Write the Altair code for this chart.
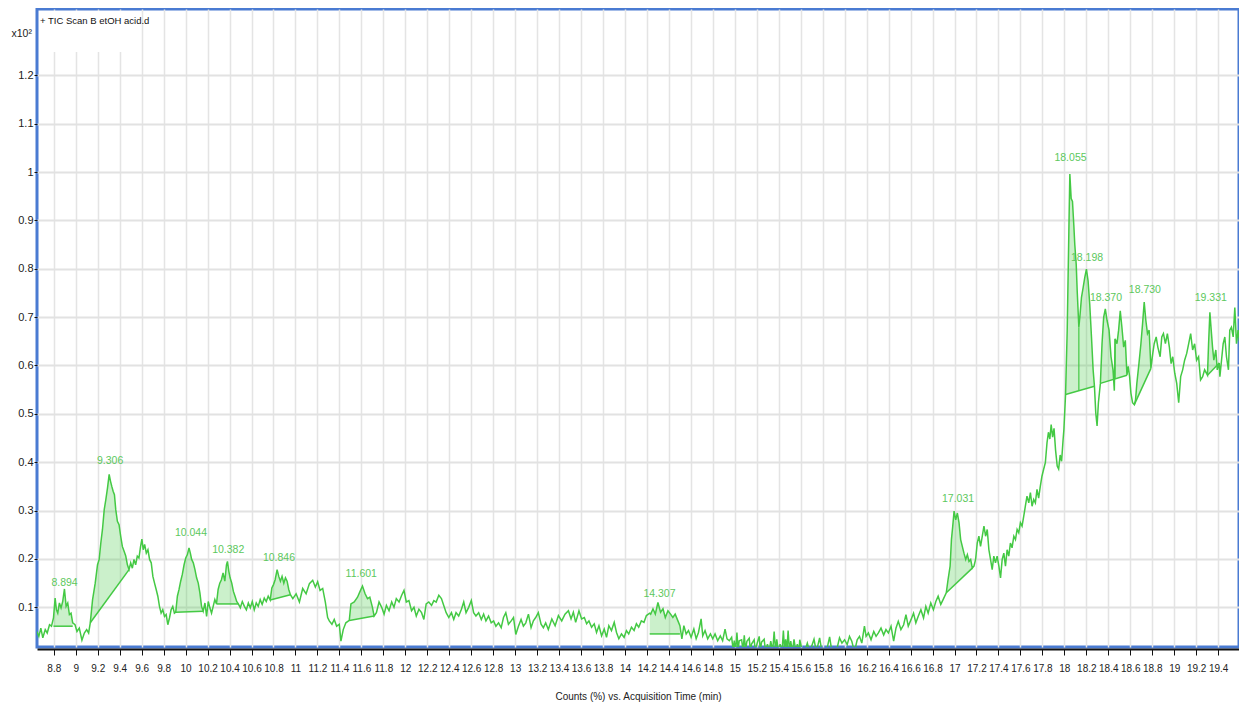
import altair as alt
import pandas as pd
import numpy as np

# ---------------- TIC trace (retention time in min, counts x10^2) ----------------
time_a = [8.646, 8.664, 8.682, 8.700, 8.722, 8.740, 8.761, 8.779, 8.797, 8.812, 8.824, 8.836, 8.851, 8.866,
          8.881, 8.897, 8.912, 8.927, 8.942, 8.957, 8.972, 8.993, 9.011, 9.032, 9.056, 9.078, 9.099, 9.117,
          9.132, 9.153, 9.177, 9.198, 9.213, 9.228, 9.243, 9.259, 9.274, 9.289, 9.304, 9.316, 9.328, 9.340,
          9.352, 9.364, 9.379, 9.394, 9.409, 9.424, 9.440, 9.455, 9.470, 9.485, 9.500, 9.515, 9.530, 9.545,
          9.560, 9.575, 9.590, 9.602, 9.614, 9.627, 9.642, 9.657, 9.672, 9.687, 9.702, 9.717, 9.732, 9.747,
          9.762, 9.777, 9.792, 9.808, 9.823, 9.838, 9.853, 9.868, 9.883, 9.898, 9.910, 9.925, 9.940, 9.955,
          9.970, 9.986, 10.001, 10.016, 10.031, 10.043, 10.055, 10.070, 10.085, 10.100, 10.115, 10.130,
          10.145, 10.160, 10.176, 10.191, 10.206, 10.221, 10.236, 10.251, 10.266, 10.281, 10.296, 10.311,
          10.326, 10.341, 10.357, 10.372, 10.381, 10.393, 10.405, 10.420, 10.435, 10.450, 10.465, 10.480,
          10.498, 10.516, 10.535, 10.553, 10.571, 10.589, 10.607, 10.625, 10.643, 10.661, 10.679, 10.697,
          10.716, 10.734, 10.752, 10.770, 10.785, 10.800, 10.815, 10.833, 10.848, 10.863, 10.878, 10.894,
          10.909, 10.924, 10.939, 10.954]
tic_a = [0.050, 0.040, 0.057, 0.037, 0.054, 0.047, 0.064, 0.061, 0.078, 0.119, 0.095, 0.088, 0.109, 0.099,
         0.112, 0.138, 0.102, 0.109, 0.085, 0.088, 0.068, 0.064, 0.050, 0.057, 0.032, 0.047, 0.054, 0.047,
         0.068, 0.116, 0.150, 0.188, 0.199, 0.233, 0.261, 0.302, 0.323, 0.347, 0.375, 0.361, 0.350, 0.340,
         0.333, 0.302, 0.278, 0.271, 0.247, 0.226, 0.216, 0.206, 0.188, 0.178, 0.192, 0.181, 0.199, 0.188,
         0.206, 0.202, 0.226, 0.241, 0.219, 0.230, 0.212, 0.219, 0.199, 0.192, 0.164, 0.150, 0.137, 0.123,
         0.102, 0.088, 0.095, 0.081, 0.085, 0.064, 0.078, 0.095, 0.102, 0.088, 0.090, 0.123, 0.137, 0.154,
         0.168, 0.188, 0.202, 0.209, 0.223, 0.212, 0.199, 0.192, 0.178, 0.161, 0.150, 0.130,
         0.102, 0.092, 0.109, 0.081, 0.112, 0.099, 0.088, 0.102, 0.116, 0.107, 0.137, 0.150,
         0.157, 0.171, 0.154, 0.188, 0.195, 0.175, 0.161, 0.150, 0.133, 0.123, 0.112, 0.107,
         0.099, 0.112, 0.102, 0.095, 0.109, 0.099, 0.112, 0.095, 0.109, 0.102, 0.116, 0.106,
         0.119, 0.112, 0.123, 0.115, 0.140, 0.147, 0.157, 0.178, 0.164, 0.154, 0.164, 0.150,
         0.161, 0.154, 0.137, 0.126]

time_b = [10.976, 11.006, 11.036, 11.066, 11.097, 11.127, 11.157, 11.181, 11.202, 11.224, 11.248, 11.272,
          11.293, 11.308, 11.332, 11.353, 11.375, 11.399, 11.414, 11.435, 11.459, 11.490, 11.505, 11.535,
          11.565, 11.586, 11.610, 11.634, 11.656, 11.677, 11.701, 11.716, 11.737, 11.761, 11.785, 11.807,
          11.828, 11.852, 11.876, 11.897, 11.918, 11.943, 11.967, 11.988, 12.009, 12.033, 12.057, 12.079,
          12.100, 12.124, 12.148, 12.169, 12.190, 12.214, 12.239, 12.260, 12.281, 12.305, 12.329, 12.350,
          12.372, 12.396, 12.420, 12.441, 12.462, 12.486, 12.511, 12.532, 12.553, 12.577, 12.601, 12.622,
          12.643, 12.668, 12.692, 12.713, 12.734, 12.758, 12.782, 12.804, 12.825, 12.849, 12.873, 12.894,
          12.915, 12.939, 12.964, 12.985, 13.006, 13.030, 13.054, 13.075, 13.097, 13.121, 13.145, 13.166,
          13.187, 13.211, 13.236, 13.257, 13.278, 13.302]
tic_b = [0.118, 0.128, 0.111, 0.139, 0.128, 0.149, 0.156, 0.142, 0.153, 0.135, 0.139, 0.111,
         0.079, 0.072, 0.065, 0.075, 0.061, 0.065, 0.030, 0.054, 0.068, 0.073, 0.107, 0.111,
         0.121, 0.132, 0.144, 0.128, 0.118, 0.121, 0.100, 0.082, 0.089, 0.111, 0.100, 0.086,
         0.104, 0.093, 0.111, 0.100, 0.118, 0.111, 0.125, 0.135, 0.111, 0.114, 0.093, 0.100,
         0.082, 0.096, 0.089, 0.075, 0.107, 0.111, 0.104, 0.114, 0.111, 0.125, 0.118, 0.104,
         0.089, 0.079, 0.089, 0.075, 0.089, 0.082, 0.096, 0.111, 0.089, 0.100, 0.114, 0.089,
         0.082, 0.089, 0.075, 0.086, 0.072, 0.082, 0.068, 0.072, 0.061, 0.068, 0.058, 0.079,
         0.089, 0.065, 0.072, 0.079, 0.044, 0.061, 0.075, 0.061, 0.068, 0.086, 0.058, 0.072,
         0.079, 0.089, 0.065, 0.058, 0.068, 0.054]

time_c = [13.334, 13.364, 13.394, 13.424, 13.454, 13.485, 13.509, 13.530, 13.551, 13.581, 13.605, 13.630,
          13.651, 13.672, 13.696, 13.720, 13.741, 13.763, 13.787, 13.811, 13.832, 13.853, 13.877, 13.902,
          13.923, 13.944, 13.968, 13.992, 14.013, 14.034, 14.059, 14.083, 14.104, 14.125, 14.149, 14.173,
          14.195, 14.225, 14.234, 14.255, 14.276, 14.300, 14.324, 14.346, 14.367, 14.391, 14.415, 14.436,
          14.457, 14.482, 14.500, 14.518, 14.536, 14.557, 14.578, 14.602, 14.627, 14.648, 14.669, 14.693,
          14.708, 14.729, 14.753, 14.778, 14.799, 14.820, 14.844, 14.868, 14.889, 14.911, 14.929, 14.950,
          14.971, 14.985, 14.995, 15.008, 15.019, 15.030, 15.040, 15.062, 15.075, 15.086, 15.098, 15.110,
          15.131, 15.142, 15.152, 15.176, 15.188, 15.201, 15.222, 15.232, 15.243, 15.267, 15.280, 15.297,
          15.312, 15.327, 15.345, 15.358, 15.370, 15.382, 15.397, 15.412, 15.430, 15.442, 15.452, 15.463,
          15.475, 15.485, 15.497, 15.509, 15.524, 15.539, 15.555, 15.569, 15.585]
tic_c = [0.076, 0.062, 0.083, 0.072, 0.086, 0.093, 0.076, 0.090, 0.069, 0.093, 0.076, 0.079,
         0.066, 0.072, 0.059, 0.066, 0.048, 0.062, 0.041, 0.055, 0.038, 0.062, 0.052, 0.069,
         0.048, 0.035, 0.045, 0.038, 0.052, 0.045, 0.059, 0.052, 0.066, 0.059, 0.072, 0.069,
         0.083, 0.088, 0.086, 0.097, 0.086, 0.110, 0.090, 0.097, 0.079, 0.093, 0.086, 0.079,
         0.086, 0.072, 0.062, 0.035, 0.062, 0.045, 0.052, 0.038, 0.055, 0.035, 0.048, 0.076,
         0.041, 0.052, 0.035, 0.045, 0.035, 0.045, 0.031, 0.041, 0.031, 0.055, 0.035, 0.031,
         0.038, 0.012, 0.031, 0.010, 0.048, 0.012, 0.031, 0.033, 0.010, 0.042, 0.012, 0.030,
         0.036, 0.010, 0.024, 0.033, 0.008, 0.024, 0.040, 0.010, 0.028, 0.034, 0.008, 0.024,
         0.008, 0.030, 0.010, 0.050, 0.012, 0.034, 0.008, 0.024, 0.008, 0.052, 0.014, 0.034,
         0.012, 0.052, 0.010, 0.030, 0.008, 0.034, 0.008, 0.024, 0.008]

time_d = [15.591, 15.612, 15.636, 15.660, 15.682, 15.721, 15.742, 15.772, 15.793, 15.833, 15.863, 15.884,
          15.923, 15.953, 15.975, 15.999, 16.023, 16.044, 16.065, 16.089, 16.114, 16.135, 16.156, 16.180,
          16.195, 16.216, 16.240, 16.265, 16.286, 16.307, 16.331, 16.355, 16.376, 16.398, 16.422, 16.446,
          16.467, 16.488, 16.512, 16.537, 16.558, 16.579, 16.603, 16.627, 16.648, 16.669, 16.694, 16.718,
          16.739, 16.760, 16.784, 16.808, 16.830, 16.851, 16.875, 16.896, 16.925, 16.941, 16.960, 16.972,
          16.984, 16.996, 17.011, 17.026, 17.041, 17.056, 17.071, 17.086, 17.102, 17.117, 17.132, 17.147,
          17.162, 17.177, 17.192, 17.207, 17.222, 17.237, 17.253, 17.268, 17.283, 17.298, 17.313, 17.328,
          17.343, 17.358, 17.373, 17.388, 17.404, 17.419, 17.434, 17.449, 17.464, 17.479, 17.494, 17.509,
          17.524, 17.540, 17.555, 17.570, 17.585, 17.600, 17.615, 17.630, 17.645, 17.660, 17.676, 17.691,
          17.706, 17.721, 17.736, 17.751, 17.766, 17.781, 17.796, 17.811, 17.827, 17.842]
tic_d = [0.033, 0.012, 0.008, 0.026, 0.008, 0.034, 0.008, 0.037, 0.008, 0.008, 0.039, 0.008,
         0.008, 0.037, 0.026, 0.033, 0.023, 0.040, 0.030, 0.008, 0.033, 0.040, 0.026, 0.061,
         0.040, 0.047, 0.033, 0.050, 0.040, 0.047, 0.057, 0.043, 0.054, 0.047, 0.061, 0.030,
         0.057, 0.071, 0.054, 0.064, 0.085, 0.061, 0.074, 0.088, 0.068, 0.081, 0.095, 0.078,
         0.102, 0.088, 0.109, 0.095, 0.112, 0.123, 0.106, 0.116, 0.130, 0.157, 0.185, 0.240,
         0.268, 0.299, 0.281, 0.295, 0.275, 0.240, 0.226, 0.212, 0.199, 0.209, 0.195, 0.199,
         0.181, 0.185, 0.199, 0.233, 0.247, 0.226, 0.247, 0.268, 0.247, 0.261, 0.219, 0.199,
         0.178, 0.206, 0.192, 0.206, 0.185, 0.161, 0.199, 0.212, 0.185, 0.219, 0.206, 0.233,
         0.223, 0.247, 0.240, 0.261, 0.254, 0.275, 0.268, 0.288, 0.309, 0.330, 0.316, 0.337,
         0.309, 0.323, 0.316, 0.344, 0.326, 0.350, 0.371, 0.385, 0.399, 0.440]

time_e = [17.855, 17.868, 17.880, 17.893, 17.906, 17.920, 17.935, 17.948, 17.962, 17.975, 17.988, 17.996,
          18.011, 18.026, 18.041, 18.050, 18.062, 18.074, 18.086, 18.095, 18.108, 18.117, 18.132, 18.141,
          18.156, 18.171, 18.186, 18.201, 18.216, 18.231, 18.247, 18.262, 18.274, 18.286, 18.298, 18.310,
          18.328, 18.343, 18.358, 18.373, 18.389, 18.407, 18.425, 18.443, 18.455, 18.462, 18.479, 18.494,
          18.509, 18.524, 18.540, 18.555, 18.570, 18.582, 18.594, 18.606, 18.621, 18.637, 18.648, 18.660,
          18.679, 18.697, 18.712, 18.727, 18.742, 18.757, 18.772, 18.788, 18.805, 18.818, 18.836, 18.851,
          18.872, 18.887, 18.902, 18.920, 18.938, 18.956, 18.972, 18.987, 19.005, 19.023, 19.041, 19.059,
          19.077, 19.095, 19.114, 19.132, 19.150, 19.168, 19.186, 19.204, 19.222, 19.240, 19.259, 19.277,
          19.303, 19.313, 19.325, 19.337, 19.349, 19.361, 19.379, 19.392, 19.410, 19.416, 19.431, 19.446,
          19.461, 19.476, 19.494, 19.506, 19.521, 19.537, 19.552, 19.567, 19.582, 19.595]
tic_e = [0.462, 0.448, 0.478, 0.452, 0.470, 0.425, 0.392, 0.386, 0.415, 0.402, 0.445, 0.468,
         0.540, 0.673, 0.877, 0.996, 0.945, 0.939, 0.891, 0.850, 0.809, 0.754, 0.679, 0.700,
         0.741, 0.761, 0.782, 0.799, 0.775, 0.727, 0.659, 0.591, 0.557, 0.502, 0.475, 0.523,
         0.563, 0.645, 0.700, 0.717, 0.693, 0.673, 0.618, 0.591, 0.548, 0.655, 0.645, 0.673,
         0.713, 0.679, 0.638, 0.652, 0.580, 0.598, 0.577, 0.543, 0.523, 0.519, 0.529, 0.563,
         0.604, 0.645, 0.686, 0.731, 0.693, 0.666, 0.673, 0.594, 0.625, 0.645, 0.659, 0.638,
         0.618, 0.659, 0.666, 0.645, 0.666, 0.638, 0.604, 0.618, 0.584, 0.563, 0.523, 0.577,
         0.591, 0.611, 0.625, 0.645, 0.666, 0.632, 0.645, 0.611, 0.618, 0.570, 0.577, 0.591,
         0.580, 0.645, 0.710, 0.673, 0.638, 0.611, 0.632, 0.591, 0.605, 0.577, 0.611, 0.645,
         0.659, 0.618, 0.591, 0.673, 0.679, 0.659, 0.720, 0.645, 0.673, 0.650]

# ---------------- integrated peaks ----------------
peak_names = ["8.894", "9.306", "10.044", "10.382", "10.846", "11.601", "14.307",
              "17.031", "18.055", "18.198", "18.370", "18.730", "19.331"]
label_t = [8.898, 9.313, 10.049, 10.388, 10.850, 11.599, 14.314,
           17.032, 18.056, 18.207, 18.379, 18.733, 19.333]
label_v = [0.151, 0.403, 0.2535, 0.218, 0.202, 0.169, 0.1275,
           0.324, 1.028, 0.822, 0.739, 0.756, 0.739]

# baselines of the integrated areas (start/end time and counts)
base_t0 = [8.797, 9.132, 9.910, 10.281, 10.770, 11.490, 14.225, 16.925, 18.011, 18.328, 18.637, 19.303]
base_v0 = [0.061, 0.068, 0.090, 0.107, 0.115, 0.073, 0.045, 0.130, 0.540, 0.563, 0.519, 0.580]
base_t1 = [8.972, 9.485, 10.160, 10.480, 10.954, 11.716, 14.500, 17.162, 18.274, 18.570, 18.788, 19.410]
base_v1 = [0.061, 0.178, 0.092, 0.107, 0.126, 0.082, 0.045, 0.181, 0.557, 0.580, 0.594, 0.605]

# peak split (drop) lines
drop_t = [18.132, 18.462]
drop_lo = [0.548, 0.572]
drop_hi = [0.679, 0.655]

x_ticks = [8.8, 9, 9.2, 9.4, 9.6, 9.8, 10, 10.2, 10.4, 10.6, 10.8, 11, 11.2, 11.4, 11.6, 11.8, 12, 12.2,
           12.4, 12.6, 12.8, 13, 13.2, 13.4, 13.6, 13.8, 14, 14.2, 14.4, 14.6, 14.8, 15, 15.2, 15.4,
           15.6, 15.8, 16, 16.2, 16.4, 16.6, 16.8, 17, 17.2, 17.4, 17.6, 17.8, 18, 18.2, 18.4, 18.6,
           18.8, 19, 19.2, 19.4]
y_ticks = [0.1, 0.2, 0.3, 0.4, 0.5, 0.6, 0.7, 0.8, 0.9, 1.0, 1.1, 1.2]

# ---------------- build tables ----------------
rt = time_a + time_b + time_c + time_d + time_e
tic = tic_a + tic_b + tic_c + tic_d + tic_e
trace = pd.DataFrame({"t": rt, "v": tic})

rows = []
for i in range(len(base_t0)):
    t0, t1, v0, v1 = base_t0[i], base_t1[i], base_v0[i], base_v1[i]
    sel = trace[(trace.t >= t0 - 1e-9) & (trace.t <= t1 + 1e-9)]
    for t, v in zip(sel.t, sel.v):
        b = v0 + (v1 - v0) * (t - t0) / (t1 - t0)
        rows.append({"peak": i, "t": t, "v": v, "base": b})
area_df = pd.DataFrame(rows)
base_df = pd.DataFrame({"t": base_t0, "v": base_v0, "t1": base_t1, "v1": base_v1})
drop_df = pd.DataFrame({"t": drop_t, "v": drop_lo, "hi": drop_hi})
label_df = pd.DataFrame({"name": peak_names, "t": label_t, "v": label_v})

FONT = "Liberation Sans Narrow, Arial Narrow, Liberation Sans, Arial, sans-serif"
GREEN = "#44c944"
LABEL_GREEN = "#5cc85c"

xs = alt.Scale(domain=[8.647, 19.59], nice=False, zero=False)
ys = alt.Scale(domain=[0.018, 1.337], nice=False, zero=False)

x_axis = alt.Axis(values=x_ticks, format="~g", grid=True, gridColor="#e4e4e4", gridWidth=1.5,
                  tickColor="#111", tickSize=6, tickWidth=1, domainColor="#111", domainWidth=2,
                  offset=2, labelFont=FONT, labelFontSize=10, labelColor="#222", labelPadding=8,
                  labelOverlap=False, labelFlush=False,
                  title="Counts (%) vs. Acquisition Time (min)", titleFont=FONT, titleFontSize=10,
                  titleFontWeight="normal", titleColor="#222", titlePadding=18)
y_axis = alt.Axis(values=y_ticks, format="~g", grid=True, gridColor="#e2e2e2", gridWidth=2,
                  tickColor="#111", tickSize=3, tickWidth=1, domain=False,
                  labelFont=FONT, labelFontSize=11, labelColor="#222", labelPadding=1,
                  labelOverlap=False,
                  title="x10²", titleFont=FONT, titleFontSize=10.5, titleFontWeight="normal",
                  titleColor="#222", titleAngle=0, titleAlign="left", titleBaseline="alphabetic",
                  titleX=-26, titleY=27)

X = alt.X("t:Q", scale=xs, axis=x_axis)
Y = alt.Y("v:Q", scale=ys, axis=y_axis)

areas = alt.Chart(area_df).mark_area(color=GREEN, opacity=0.28, clip=True).encode(
    x=X, y=Y, y2="base:Q", detail="peak:N")
baselines = alt.Chart(base_df).mark_rule(color=GREEN, strokeWidth=1.5).encode(
    x=X, x2="t1:Q", y=Y, y2="v1:Q")
drops = alt.Chart(drop_df).mark_rule(color=GREEN, strokeWidth=1.2).encode(
    x=X, y=Y, y2="hi:Q")
line = alt.Chart(trace).mark_line(color=GREEN, strokeWidth=1.5, clip=True).encode(x=X, y=Y)
labels = alt.Chart(label_df).mark_text(color=LABEL_GREEN, font=FONT, fontSize=10.5,
                                       baseline="middle", align="center").encode(
    x=X, y=Y, text="name:N")

legend_bg = alt.Chart(pd.DataFrame({"k": [0]})).mark_rect(fill="white").encode(
    x=alt.value(2), x2=alt.value(103.5), y=alt.value(2), y2=alt.value(43))
legend_txt = alt.Chart(pd.DataFrame({"k": ["+ TIC Scan B etOH acid.d"]})).mark_text(
    font=FONT, fontSize=9.5, color="#111", align="left", baseline="middle").encode(
    x=alt.value(3), y=alt.value(12), text="k:N")

chart = alt.layer(areas, baselines, drops, line, labels, legend_bg, legend_txt).properties(
    width=1202, height=638,
    background="white",
    autosize=alt.AutoSizeParams(type="none"),
    padding={"left": 29, "top": 1, "right": 0, "bottom": 60},
).configure_view(stroke="#4a7bd2", strokeWidth=3)

chart.save("out.html", embed_options={"renderer": "svg", "actions": False})
